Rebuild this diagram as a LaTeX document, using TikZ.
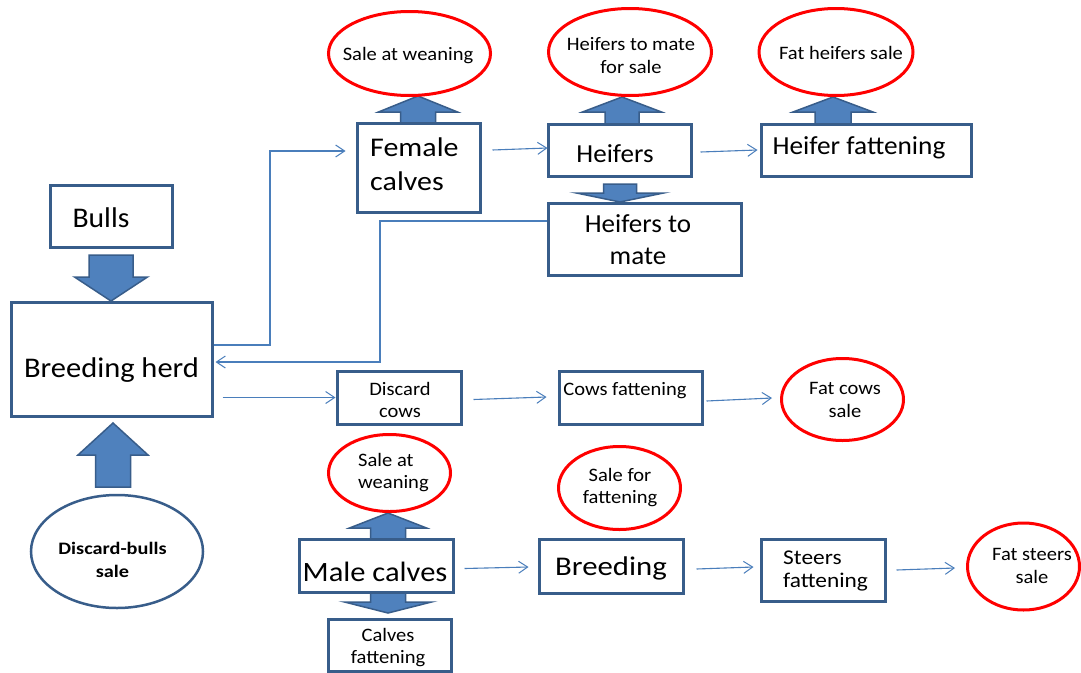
\documentclass[tikz,border=0pt]{standalone}
\usepackage{fontspec}
\setmainfont{Carlito}
\usetikzlibrary{shapes.geometric,arrows.meta,calc}
\definecolor{boxblue}{HTML}{385D8A}
\definecolor{fillblue}{HTML}{4F81BD}
\definecolor{linkblue}{HTML}{4A7EBB}
\definecolor{salered}{HTML}{FF0000}

% block arrow: centre x, tail y, head base y, tip y, head half width, shaft half width
\newcommand\blockarrow[6]{%
  \draw[blk] ({#1-#6},#2) -- ({#1-#6},#3) -- ({#1-#5},#3) -- (#1,#4)
    -- ({#1+#5},#3) -- ({#1+#6},#3) -- ({#1+#6},#2) -- cycle;}

\begin{document}
\begin{tikzpicture}[x=1pt,y=-1pt,
  box/.style={draw=boxblue,line width=3pt,fill=white,inner sep=0pt},
  sale/.style={ellipse,draw=salered,line width=3pt,fill=white,inner sep=0pt},
  bullsale/.style={ellipse,draw=boxblue,line width=2.5pt,fill=white,inner sep=0pt},
  big/.style={font=\fontsize{26}{33}\selectfont,inner sep=0pt},
  small/.style={font=\fontsize{19}{22.5}\selectfont,inner sep=0pt,xscale=1.08},
  boldsmall/.style={font=\fontsize{17.5}{23}\selectfont\bfseries,inner sep=0pt,xscale=1.16},
  blk/.style={fill=fillblue,draw=boxblue,line width=1.5pt,line join=miter},
  conn/.style={draw=linkblue,line width=1.1pt,
    -{Straight Barb[length=9pt,width=12pt,line width=1pt]}}
]
\useasboundingbox (0,0) rectangle (1081,672);
\fill[white] (0,0) rectangle (1081,672);

% thick block arrows (drawn first, boxes sit on top)
\blockarrow{111}{255}{277}{301}{36.5}{22}
\blockarrow{113}{487}{455}{423}{35}{17.5}
\blockarrow{418}{124}{112}{96}{39.5}{17.5}
\blockarrow{622}{124}{112}{97}{39.5}{17}
\blockarrow{833}{124}{112}{97}{40}{18}
\blockarrow{620}{184}{193}{202}{43.5}{16.5}
\blockarrow{388}{540}{528}{513}{38.5}{17.5}
\blockarrow{388}{593}{602}{613}{43.5}{17.5}

% boxes
\node[box,minimum width=122pt,minimum height=62pt] (bulls) at (111.5,216.5) {};
\node[big,font=\fontsize{28.5}{34}\selectfont,xscale=1.04,anchor=base] (bulls-t) at (101,227) {Bulls};
\node[box,minimum width=201pt,minimum height=114pt] (herd) at (111.5,359) {};
\node[big,font=\fontsize{28.5}{34}\selectfont,xscale=1.07,anchor=base] (herd-t) at (111.5,377) {Breeding herd};
\node[box,minimum width=123pt,minimum height=89pt] (fem) at (418.5,167.5) {};
\node[big,font=\fontsize{27}{34}\selectfont,xscale=1.11,align=left,anchor=west] (fem-t) at (370,164.5) {Female\\calves};
\node[box,minimum width=143pt,minimum height=52pt] (hef) at (619.5,150) {};
\node[big,xscale=1.04,anchor=base] (hef-t) at (615,162) {Heifers};
\node[box,minimum width=193pt,minimum height=72pt] (htm) at (644.5,239) {};
\node[big,font=\fontsize{26}{32}\selectfont,xscale=1.04,align=center] (htm-t) at (638,239.5) {Heifers to\\mate};
\node[box,minimum width=210pt,minimum height=52pt] (hff) at (866,150) {};
\node[big,xscale=1.05,anchor=base] (hff-t) at (859,154) {Heifer fattening};
\node[box,minimum width=124pt,minimum height=53pt] (dc) at (399,397.5) {};
\node[small,align=center] (dc-t) at (400,400) {Discard\\cows};
\node[box,minimum width=143pt,minimum height=53pt] (cf) at (630.5,397.5) {};
\node[small,anchor=base] (cf-t) at (625,395) {Cows fattening};
\node[box,minimum width=154pt,minimum height=53pt] (mc) at (376,565.5) {};
\node[big,font=\fontsize{28}{34}\selectfont,xscale=1.09,anchor=base] (mc-t) at (375,581) {Male calves};
\node[box,minimum width=123pt,minimum height=52pt] (calf) at (389.5,645) {};
\node[small,align=center] (calf-t) at (388,647.5) {Calves\\fattening};
\node[box,minimum width=144pt,minimum height=54pt] (br) at (611,566) {};
\node[big,font=\fontsize{27}{34}\selectfont,xscale=1.14,anchor=base] (br-t) at (611,575) {Breeding};
\node[box,minimum width=124pt,minimum height=62pt] (sf) at (823,570) {};
\node[small,font=\fontsize{21}{23}\selectfont,xscale=1.03,align=left,anchor=west] (sf-t) at (783,571) {Steers\\fattening};

% sale ellipses
\node[sale,minimum width=162pt,minimum height=84pt] (swt) at (409.5,53.5) {};
\node[small,anchor=base] (swt-t) at (408,60) {Sale at weaning};
\node[sale,minimum width=163pt,minimum height=87pt] (htms) at (630,52) {};
\node[small,align=center] (htms-t) at (631,55.5) {Heifers to mate\\for sale};
\node[sale,minimum width=154pt,minimum height=87pt] (fhs) at (836,52) {};
\node[small,anchor=base] (fhs-t) at (841,59) {Fat heifers sale};
\node[sale,minimum width=122pt,minimum height=82pt] (fcs) at (842.5,399.5) {};
\node[small,align=center] (fcs-t) at (845,400) {Fat cows\\sale};
\node[sale,minimum width=122pt,minimum height=77pt] (swb) at (389.5,473) {};
\node[small,align=left,anchor=west] (swb-t) at (358,472.5) {Sale at\\weaning};
\node[sale,minimum width=122pt,minimum height=83pt] (sff) at (619.5,488) {};
\node[small,align=center] (sff-t) at (620,487.5) {Sale for\\fattening};
\node[sale,minimum width=112pt,minimum height=87pt] (fss) at (1023.5,566.5) {};
\node[small,align=center] (fss-t) at (1032,566) {Fat steers\\sale};
\node[bullsale,minimum width=172pt,minimum height=113pt] (dbs) at (117,551.5) {};
\node[boldsmall,align=center] (dbs-t) at (112.5,560) {Discard-bulls\\sale};

% thin flow connectors
\draw[conn] ([yshift=14pt]herd.east) -| (270,151) -- ([xshift=-10pt,yshift=16.5pt]fem.west);
\draw[conn] ([yshift=18pt]htm.west) -| (380,362) -- ([xshift=2pt,yshift=-3pt]herd.east);
\draw[conn] ($(herd.east |- dc.west)+(9,0)$) -- (dc.west);
\draw[conn] ($(dc.east)+(11,2)$) -- ($(cf.west)+(-11,-0.5)$);
\draw[conn] ($(cf.east)+(3,3.5)$) -- ($(fcs.west)+(-8,-1.5)$);
\draw[conn] ($(fem.east)+(11,-17.5)$) -- ($(hef.west)+(1,-2)$);
\draw[conn] ($(hef.east)+(8,2)$) -- ($(hff.west)+(-2,0)$);
\draw[conn] ($(mc.east)+(10,3)$) -- ($(br.west)+(-9,1)$);
\draw[conn] ($(br.east)+(12,3)$) -- ($(sf.west)+(-6,-3)$);
\draw[conn] ($(sf.east)+(10,0)$) -- ($(fss.west)+(-11,1.5)$);
\end{tikzpicture}
\end{document}
